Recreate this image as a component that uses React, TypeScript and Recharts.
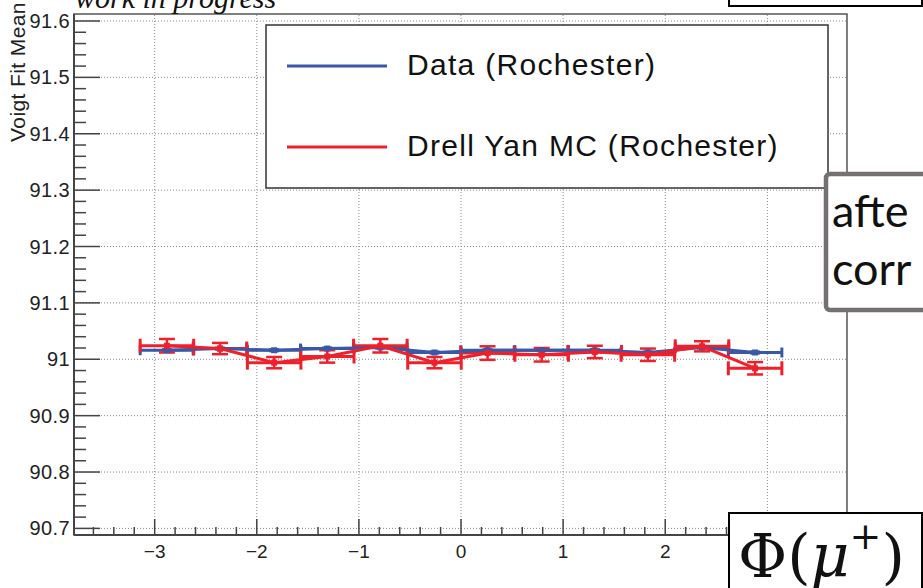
import React from 'react';
import { ComposedChart, Scatter, XAxis, YAxis, ErrorBar, ReferenceLine, ReferenceArea } from 'recharts';

// Φ(μ+) bin centres and half widths
const phiCenters = [-2.88, -2.36, -1.83, -1.31, -0.79, -0.26, 0.26, 0.79, 1.31, 1.83, 2.36, 2.88];
const binHalfWidth = [0.262, 0.262, 0.262, 0.262, 0.262, 0.262, 0.262, 0.262, 0.262, 0.262, 0.262, 0.262];

// Data (Rochester)
const dataMean = [91.016, 91.019, 91.016, 91.019, 91.021, 91.012, 91.016, 91.016, 91.016, 91.012, 91.021, 91.012];
const dataErr = [0.002, 0.002, 0.002, 0.002, 0.002, 0.002, 0.002, 0.002, 0.002, 0.002, 0.002, 0.002];

// Drell Yan MC (Rochester)
const mcMean = [91.024, 91.019, 90.994, 91.005, 91.024, 90.994, 91.011, 91.008, 91.013, 91.008, 91.023, 90.984];
const mcErr = [0.012, 0.010, 0.010, 0.011, 0.012, 0.010, 0.012, 0.012, 0.011, 0.011, 0.009, 0.011];

const xMajorTicks = [-3, -2, -1, 0, 1, 2, 3];
const yMajorTicks = [90.7, 90.8, 90.9, 91.0, 91.1, 91.2, 91.3, 91.4, 91.5, 91.6];
const yTickLabels = ['90.7', '90.8', '90.9', '91', '91.1', '91.2', '91.3', '91.4', '91.5', '91.6'];
// the "3" label is hidden behind the Φ(μ+) box in the reference
const xTickLabels = ['\u22123', '\u22122', '\u22121', '0', '1', '2', ''];

const X_DOMAIN: [number, number] = [-3.79, 3.78];
const Y_DOMAIN: [number, number] = [90.6883, 91.6124];

const BLUE = '#3a58a8';
const RED = '#f0202a';
const AXIS = '#444';
const FONT = '"Liberation Sans", Arial, Helvetica, sans-serif';

const blueData = phiCenters.map((x, i) => ({ x, y: dataMean[i], ex: binHalfWidth[i], ey: dataErr[i] }));
const redData = phiCenters.map((x, i) => ({ x, y: mcMean[i], ex: binHalfWidth[i], ey: mcErr[i] }));

// minor tick positions (axis decoration)
const yMinor: number[] = [];
for (let k = 0; k <= 45; k++) yMinor.push(Math.round((90.7 + k * 0.02) * 1000) / 1000);
const xMinor: number[] = [];
for (let k = -18; k <= 18; k++) xMinor.push(Math.round(k * 0.2 * 1000) / 1000);

const YTick = (props: any) => {
  const { x, y, payload } = props;
  const v = payload.value as number;
  const idx = yMajorTicks.findIndex((m) => Math.abs(m - v) < 1e-6);
  const major = idx >= 0;
  return (
    <g>
      <line x1={x} x2={x + (major ? 26 : 12)} y1={y} y2={y} stroke={AXIS} strokeWidth={1.5} />
      {major && (
        <text x={x - 4} y={y + 7} textAnchor="end" fontFamily={FONT} fontSize={20} fill="#222" letterSpacing={0.4}>
          {yTickLabels[idx]}
        </text>
      )}
    </g>
  );
};

const XTick = (props: any) => {
  const { x, y, payload } = props;
  const v = payload.value as number;
  const idx = xMajorTicks.findIndex((m) => Math.abs(m - v) < 1e-6);
  const major = idx >= 0;
  return (
    <g>
      <line x1={x} x2={x} y1={y} y2={y - (major ? 16 : 8)} stroke={AXIS} strokeWidth={1.5} />
      {major && xTickLabels[idx] !== '' && (
        <text x={x} y={y + 23} textAnchor="middle" fontFamily={FONT} fontSize={19} fill="#222">
          {xTickLabels[idx]}
        </text>
      )}
    </g>
  );
};

const makeSquare = (color: string) => (p: any) => (
  <rect x={p.cx - 3} y={p.cy - 3} width={6} height={6} fill={color} />
);

export default function App() {
  return (
    <div style={{ position: 'absolute', left: 0, top: 0, width: 923, height: 588, background: '#fff', overflow: 'hidden' }}>
      <ComposedChart
        width={923}
        height={588}
        margin={{ top: 14, right: 76, bottom: 0, left: 0 }}
      >
        <XAxis
          dataKey="x"
          type="number"
          domain={X_DOMAIN}
          allowDataOverflow
          ticks={xMinor}
          interval={0}
          tickSize={0}
          tickMargin={0}
          height={53}
          tick={(p: any) => <XTick {...p} />}
          axisLine={{ stroke: AXIS, strokeWidth: 2 }}
          tickLine={false}
        />
        <YAxis
          dataKey="y"
          type="number"
          domain={Y_DOMAIN}
          allowDataOverflow
          ticks={yMinor}
          interval={0}
          tickSize={0}
          tickMargin={0}
          width={74}
          tick={(p: any) => <YTick {...p} />}
          axisLine={{ stroke: AXIS, strokeWidth: 2 }}
          tickLine={false}
        />
        {xMajorTicks.map((v) => (
          <ReferenceLine key={'gx' + v} x={v} stroke="#888" strokeDasharray="1 2" strokeWidth={1} ifOverflow="visible" />
        ))}
        {yMajorTicks.map((v) => (
          <ReferenceLine key={'gy' + v} y={v} stroke="#888" strokeDasharray="1 2" strokeWidth={1} ifOverflow="visible" />
        ))}
        <ReferenceArea
          x1={X_DOMAIN[0]}
          x2={X_DOMAIN[1]}
          y1={Y_DOMAIN[0]}
          y2={Y_DOMAIN[1]}
          fill="none"
          fillOpacity={0}
          stroke="#555"
          strokeWidth={1.5}
          ifOverflow="visible"
        />
        <Scatter
          name="Data (Rochester)"
          data={blueData}
          dataKey="y"
          fill={BLUE}
          line={{ stroke: BLUE, strokeWidth: 3 }}
          shape={makeSquare(BLUE)}
          isAnimationActive={false}
        >
          <ErrorBar dataKey="ex" direction="x" stroke={BLUE} strokeWidth={3} width={5} />
          <ErrorBar dataKey="ey" direction="y" stroke={BLUE} strokeWidth={2} width={5} />
        </Scatter>
        <Scatter
          name="Drell Yan MC (Rochester)"
          data={redData}
          dataKey="y"
          fill={RED}
          line={{ stroke: RED, strokeWidth: 3 }}
          shape={makeSquare(RED)}
          isAnimationActive={false}
        >
          <ErrorBar dataKey="ex" direction="x" stroke={RED} strokeWidth={3} width={7} />
          <ErrorBar dataKey="ey" direction="y" stroke={RED} strokeWidth={2.5} width={8} />
        </Scatter>
      </ComposedChart>

      <svg width={923} height={588} style={{ position: 'absolute', left: 0, top: 0, pointerEvents: 'none' }}>
        {/* title */}
        <text x={75} y={8} fontFamily='"Liberation Serif", "Times New Roman", serif' fontStyle="italic" fontSize={30} fill="#111">
          work in progress
        </text>
        {/* y axis label */}
        <text
          x={0}
          y={0}
          transform="translate(25,72) rotate(-90)"
          textAnchor="middle"
          fontFamily={FONT}
          fontSize={21}
          fill="#222"
          letterSpacing={0.4}
        >
          Voigt Fit Mean
        </text>

        {/* legend */}
        <rect x={266} y={25} width={562} height={163} fill="#fff" stroke="#333" strokeWidth={1.5} />
        <line x1={287} x2={387} y1={66} y2={66} stroke={BLUE} strokeWidth={3} />
        <line x1={287} x2={387} y1={147} y2={147} stroke={RED} strokeWidth={3} />
        <text x={407} y={75} fontFamily={FONT} fontSize={30} fill="#111" letterSpacing={1.3}>
          Data (Rochester)
        </text>
        <text x={407} y={156} fontFamily={FONT} fontSize={30} fill="#111" letterSpacing={1.3}>
          Drell Yan MC (Rochester)
        </text>

        {/* top-right box (cut off) */}
        <rect x={729} y={-20} width={193} height={26} fill="#fff" stroke="#000" strokeWidth={2} />

        {/* "after correction" box (cut off) */}
        <rect x={826} y={174} width={140} height={136} rx={4} fill="#fff" stroke="#767171" strokeWidth={4.5} />
        <text x={832} y={227} fontFamily='Lato, "Open Sans", sans-serif' fontSize={45} fill="#111">
          afte
        </text>
        <text x={832} y={285} fontFamily='Lato, "Open Sans", sans-serif' fontSize={45} fill="#111">
          corr
        </text>

        {/* Φ(μ+) box */}
        <rect x={729} y={513} width={193} height={90} fill="#fff" stroke="#000" strokeWidth={2} />
        <text x={738} y={577} fontFamily='"DejaVu Serif", "Liberation Serif", serif' fontSize={60} fill="#111">
          <tspan>Φ(</tspan>
          <tspan fontStyle="italic">μ</tspan>
          <tspan fontSize={38} dy={-28}>+</tspan>
          <tspan dy={28}>)</tspan>
        </text>
      </svg>
    </div>
  );
}
